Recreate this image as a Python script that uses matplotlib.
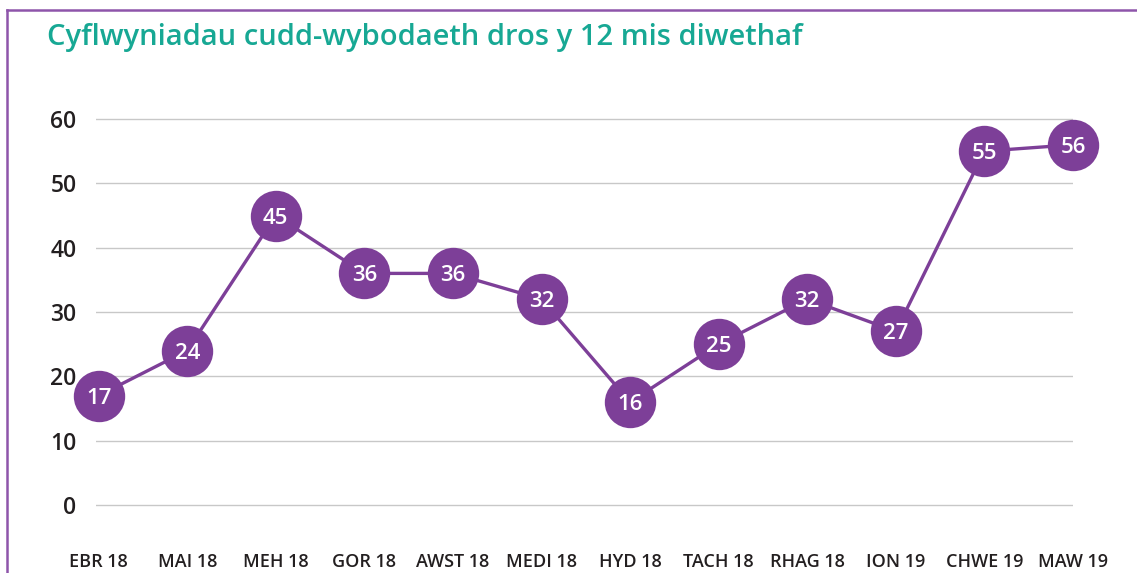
import matplotlib.pyplot as plt
from matplotlib.lines import Line2D

months = ['EBR 18', 'MAI 18', 'MEH 18', 'GOR 18', 'AWST 18', 'MEDI 18',
          'HYD 18', 'TACH 18', 'RHAG 18', 'ION 19', 'CHWE 19', 'MAW 19']
counts = [17, 24, 45, 36, 36, 32, 16, 25, 32, 27, 55, 56]
y_ticks = [0, 10, 20, 30, 40, 50, 60]

purple = '#7D3F98'
teal = '#17A894'

plt.rcParams['font.family'] = ['Open Sans', 'DejaVu Sans']

fig = plt.figure(figsize=(11.37, 5.73), dpi=100)
ax = fig.add_axes([0.0844, 0.1131, 0.8593, 0.6848])

x = list(range(len(months)))
ax.plot(x, counts, color=purple, linewidth=2.4, marker='o', markersize=37,
        markerfacecolor=purple, markeredgewidth=0,
        clip_on=False, zorder=3)
for xi, v in zip(x, counts):
    ax.text(xi, v, str(v), color='white', fontsize=16, ha='center',
            va='center_baseline', fontweight='semibold', zorder=4)

ax.set_xlim(-0.03, 10.99)
ax.set_ylim(-0.5, 60.5)
ax.set_yticks(y_ticks)
ax.set_xticks(x)
ax.set_xticklabels(months)
ax.grid(axis='y', color='#c8c8c8', linewidth=1)
ax.set_axisbelow(True)
for s in ax.spines.values():
    s.set_visible(False)
ax.tick_params(axis='both', length=0, colors='#231f20')
ax.tick_params(axis='y', pad=14, labelsize=16.5)
ax.tick_params(axis='x', pad=32, labelsize=13)
for lbl in ax.get_xticklabels() + ax.get_yticklabels():
    lbl.set_fontweight('semibold')

fig.text(0.041, 0.935, 'Cyflwyniadau cudd-wybodaeth dros y 12 mis diwethaf',
         color=teal, fontsize=21, fontweight='semibold', va='center')

# purple frame on the top and left edge
fig.add_artist(Line2D([7 / 1137, 1], [1 - 10 / 573, 1 - 10 / 573],
                      color='#8E55AA', linewidth=1.8, transform=fig.transFigure))
fig.add_artist(Line2D([7 / 1137, 7 / 1137], [0, 1 - 10 / 573],
                      color='#8E55AA', linewidth=1.8, transform=fig.transFigure))

fig.savefig('out.png', dpi=100)
